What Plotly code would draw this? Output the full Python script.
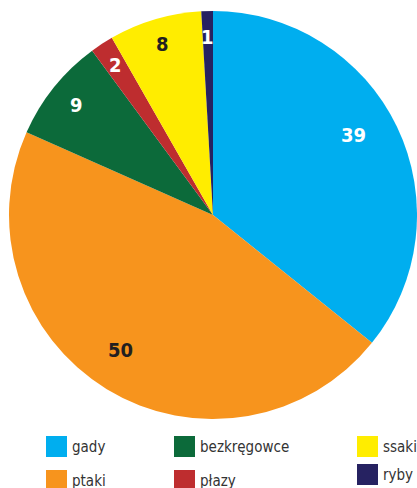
import math
import plotly.graph_objects as go

categories = ["gady", "ptaki", "bezkręgowce", "płazy", "ssaki", "ryby"]
values = [39, 50, 9, 2, 8, 1]
colors = ["#00AEEF", "#F7941D", "#0C6A3A", "#BE2D2F", "#FFED00", "#262261"]
label_colors = ["white", "#231F20", "white", "white", "#231F20", "white"]

# legend layout (rows/columns as in the reference)
legend_grid = [["gady", "bezkręgowce", "ssaki"], ["ptaki", "płazy", "ryby"]]

W, H = 417, 488
CX, CY, R = 213, 215, 204  # pixel centre / radius of the pie
FONT = "Liberation Sans Narrow, DejaVu Sans Condensed, Arial Narrow, sans-serif"
# small angular tweaks (degrees) / radial fractions for the value labels
LABEL_TWEAK = {"gady": (-4, 0.79), "ptaki": (3, 0.80), "bezkręgowce": (0, 0.86)}

fig = go.Figure()
fig.add_trace(go.Pie(
    labels=categories, values=values, sort=False, direction="clockwise", rotation=0,
    marker=dict(colors=colors, line=dict(width=0)),
    textinfo="none", hoverinfo="label+value", showlegend=False,
    domain=dict(x=[(CX - R) / W, (CX + R) / W], y=[(H - CY - R) / H, (H - CY + R) / H]),
))

def px(x, y):
    return x / W, 1 - y / H

annotations = []
total = sum(values)
cum = 0
for name, v, lc in zip(categories, values, label_colors):
    frac_mid = (cum + v / 2) / total
    cum += v
    dang, rf = LABEL_TWEAK.get(name, (0, 0.875))
    mid = frac_mid * 2 * math.pi + math.radians(dang)
    x = CX + rf * R * math.sin(mid)
    y = CY - rf * R * math.cos(mid)
    ax, ay = px(x, y)
    annotations.append(dict(x=ax, y=ay, xref="paper", yref="paper", text=f"<b>{v}</b>",
                            xanchor="center", yanchor="middle",
                            showarrow=False, font=dict(family=FONT, size=20, color=lc)))

shapes = []
col_x = [46, 174, 357]
row_y = {0: [436, 436, 436], 1: [470, 470, 464]}
for r, row in enumerate(legend_grid):
    for c, name in enumerate(row):
        color = colors[categories.index(name)]
        x0, y0 = col_x[c], row_y[r][c]
        shapes.append(dict(type="rect", xref="paper", yref="paper",
                           x0=x0 / W, x1=(x0 + 21) / W, y0=1 - y0 / H, y1=1 - (y0 + 21) / H,
                           fillcolor=color, line=dict(width=0)))
        tx, ty = px(x0 + 24, y0 + 11)
        annotations.append(dict(x=tx, y=ty, xref="paper", yref="paper", text=name,
                                showarrow=False, xanchor="left", yanchor="middle",
                                font=dict(family=FONT, size=15, color="#333333")))

fig.update_layout(
    width=W, height=H, margin=dict(l=0, r=0, t=0, b=0),
    paper_bgcolor="white", plot_bgcolor="white",
    annotations=annotations, shapes=shapes, showlegend=False,
)
fig.write_html("out.html", config={"displayModeBar": False},
               post_script="document.body.style.margin='0';document.body.style.overflow='hidden';")
